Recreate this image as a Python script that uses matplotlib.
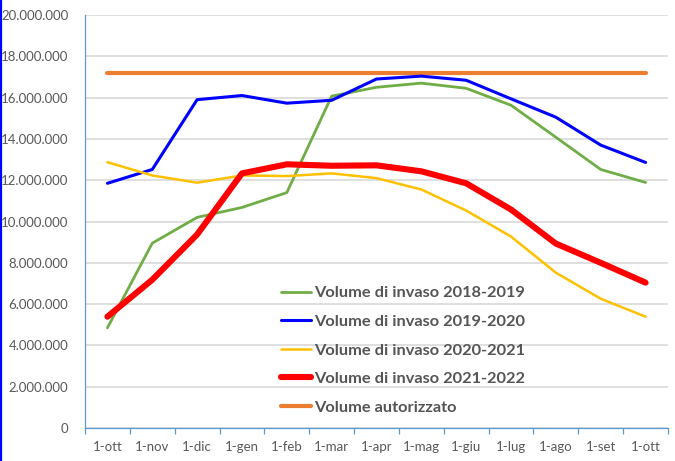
import matplotlib
matplotlib.use("Agg")
import matplotlib.pyplot as plt
from matplotlib.lines import Line2D
from matplotlib.ticker import FuncFormatter, FixedLocator

months = ["1-ott", "1-nov", "1-dic", "1-gen", "1-feb", "1-mar", "1-apr",
          "1-mag", "1-giu", "1-lug", "1-ago", "1-set", "1-ott"]

vol_2018_2019 = [4.85, 8.95, 10.2, 10.68, 11.4, 16.07, 16.5, 16.7, 16.45, 15.63, 14.08, 12.52, 11.89]
vol_2019_2020 = [11.85, 12.52, 15.9, 16.1, 15.73, 15.87, 16.9, 17.04, 16.84, 15.94, 15.05, 13.7, 12.86]
vol_2020_2021 = [12.87, 12.23, 11.88, 12.23, 12.2, 12.33, 12.1, 11.55, 10.53, 9.27, 7.52, 6.26, 5.39]
vol_2021_2022 = [5.39, 7.18, 9.37, 12.33, 12.77, 12.7, 12.72, 12.43, 11.85, 10.58, 8.93, 8.0, 7.04]
vol_autorizzato = [17.18] * 13

labels = ["Volume di invaso 2018-2019", "Volume di invaso 2019-2020",
          "Volume di invaso 2020-2021", "Volume di invaso 2021-2022",
          "Volume autorizzato"]

plt.rcParams['font.family'] = ['Lato', 'DejaVu Sans']

fig = plt.figure(figsize=(6.75, 4.61), dpi=100)
ax = fig.add_axes([85/675, 1-428/461, (668-85)/675, (428-15)/461])

x = list(range(len(months)))
M = 1e6
ax.plot(x, [v*M for v in vol_2018_2019], color="#70AD47", lw=2.0, label=labels[0], solid_capstyle='round', zorder=3)
ax.plot(x, [v*M for v in vol_2019_2020], color="#0000FF", lw=2.2, label=labels[1], solid_capstyle='round', zorder=3)
ax.plot(x, [v*M for v in vol_2020_2021], color="#FFC000", lw=1.8, label=labels[2], solid_capstyle='round', zorder=3)
ax.plot(x, [v*M for v in vol_2021_2022], color="#FF0000", lw=4.4, label=labels[3], solid_capstyle='round', zorder=4)
ax.plot(x, [v*M for v in vol_autorizzato], color="#ED7D31", lw=3.0, label=labels[4], solid_capstyle='round', zorder=2)

ax.set_xlim(-0.5, len(months) - 0.5)
ax.set_ylim(0, 20*M)
ax.yaxis.set_major_locator(FixedLocator([i*2*M for i in range(11)]))
ax.yaxis.set_major_formatter(FuncFormatter(lambda v, p: f"{int(round(v)):,}".replace(",", ".")))
ax.tick_params(axis='y', length=0, pad=12, labelsize=9.5, labelcolor="#595959")
ax.grid(axis='y', color="#D9D9D9", lw=1.2, zorder=0)
ax.set_axisbelow(True)

ax.xaxis.set_major_locator(FixedLocator([i - 0.5 for i in range(len(months) + 1)]))
ax.xaxis.set_minor_locator(FixedLocator(x))
ax.set_xticklabels([])
ax.set_xticklabels(months, minor=True)
ax.tick_params(axis='x', which='major', length=4, width=0.9, color="#5B9BD5", direction='out')
ax.tick_params(axis='x', which='minor', length=0, pad=9, labelsize=9.5, labelcolor="#595959")

for s in ['top', 'right']:
    ax.spines[s].set_visible(False)
for s in ['left', 'bottom']:
    ax.spines[s].set_color("#5B9BD5")
    ax.spines[s].set_linewidth(0.9)

leg = ax.legend(loc='upper left', bbox_to_anchor=(281/675, 1-286/461), bbox_transform=fig.transFigure,
                frameon=False, fontsize=11.8, handlelength=1.85, handletextpad=0.15,
                labelspacing=0.86, borderpad=0, borderaxespad=0)
for t in leg.get_texts():
    t.set_color("#555555")
    t.set_fontweight('bold')

fig.add_artist(Line2D([1/675, 1/675], [0, 1], transform=fig.transFigure, color="#0000FF", lw=1.6))

fig.savefig("out.png", dpi=100)
